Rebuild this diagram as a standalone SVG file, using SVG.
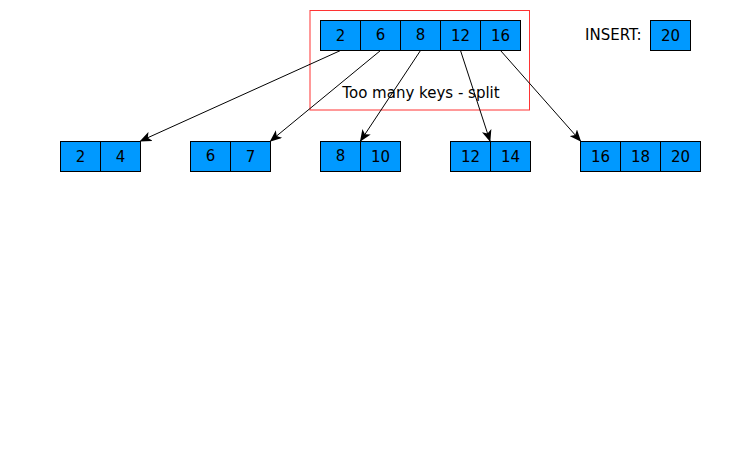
<svg xmlns="http://www.w3.org/2000/svg" width="745" height="461" viewBox="0 0 745 461">
<style>
.c{fill:#0099ff;stroke:#000;stroke-width:1}
.t{font-family:"DejaVu Sans",sans-serif;font-size:15px;fill:#000;text-anchor:middle}
.l{font-family:"DejaVu Sans",sans-serif;font-size:15px;fill:#000}
.e{stroke:#000;stroke-width:1;fill:none;marker-end:url(#a)}
</style>
<defs>
<marker id="a" viewBox="0 0 12 10" refX="11" refY="5" markerWidth="12" markerHeight="10" markerUnits="userSpaceOnUse" orient="auto">
<path d="M0,0 L12,5 L0,10 L3,5 Z" fill="#000"/>
</marker>
</defs>
<rect width="745" height="461" fill="#fff"/>
<g id="split-box">
<rect x="310" y="10.5" width="219.5" height="99.5" fill="none" stroke="#ff3333" stroke-width="1"/>
<text class="t" x="421" y="98">Too many keys - split</text>
</g>
<g id="root">
<rect class="c" x="320.5" y="20.5" width="40" height="30"/>
<rect class="c" x="360.5" y="20.5" width="40" height="30"/>
<rect class="c" x="400.5" y="20.5" width="40" height="30"/>
<rect class="c" x="440.5" y="20.5" width="40" height="30"/>
<rect class="c" x="480.5" y="20.5" width="40" height="30"/>
<text class="t" x="340.5" y="41">2</text>
<text class="t" x="380.5" y="40">6</text>
<text class="t" x="420.5" y="40">8</text>
<text class="t" x="460.5" y="41">12</text>
<text class="t" x="500.5" y="41">16</text>
</g>
<g id="insert">
<text class="l" x="585" y="40">INSERT:</text>
<rect class="c" x="650.5" y="20.5" width="40" height="30"/>
<text class="t" x="670.5" y="41">20</text>
</g>
<g id="leaf1">
<rect class="c" x="60.5" y="141.5" width="40" height="30"/>
<rect class="c" x="100.5" y="141.5" width="40" height="30"/>
<text class="t" x="80.5" y="162">2</text>
<text class="t" x="120.5" y="162">4</text>
</g>
<g id="leaf2">
<rect class="c" x="190.5" y="141.5" width="40" height="30"/>
<rect class="c" x="230.5" y="141.5" width="40" height="30"/>
<text class="t" x="210.5" y="161">6</text>
<text class="t" x="250.5" y="162">7</text>
</g>
<g id="leaf3">
<rect class="c" x="320.5" y="141.5" width="40" height="30"/>
<rect class="c" x="360.5" y="141.5" width="40" height="30"/>
<text class="t" x="340.5" y="161">8</text>
<text class="t" x="380.5" y="162">10</text>
</g>
<g id="leaf4">
<rect class="c" x="450.5" y="141.5" width="40" height="30"/>
<rect class="c" x="490.5" y="141.5" width="40" height="30"/>
<text class="t" x="470.5" y="162">12</text>
<text class="t" x="510.5" y="162">14</text>
</g>
<g id="leaf5">
<rect class="c" x="580.5" y="141.5" width="40" height="30"/>
<rect class="c" x="620.5" y="141.5" width="40" height="30"/>
<rect class="c" x="660.5" y="141.5" width="40" height="30"/>
<text class="t" x="600.5" y="162">16</text>
<text class="t" x="640.5" y="162">18</text>
<text class="t" x="680.5" y="162">20</text>
</g>
<g id="connectors">
<line class="e" x1="340.5" y1="50.5" x2="140.5" y2="141"/>
<line class="e" x1="380.5" y1="50.5" x2="270.5" y2="141"/>
<line class="e" x1="420.5" y1="50.5" x2="360.5" y2="141"/>
<line class="e" x1="460.5" y1="50.5" x2="490" y2="141"/>
<line class="e" x1="500.5" y1="50.5" x2="580.5" y2="141"/>
</g>
</svg>
